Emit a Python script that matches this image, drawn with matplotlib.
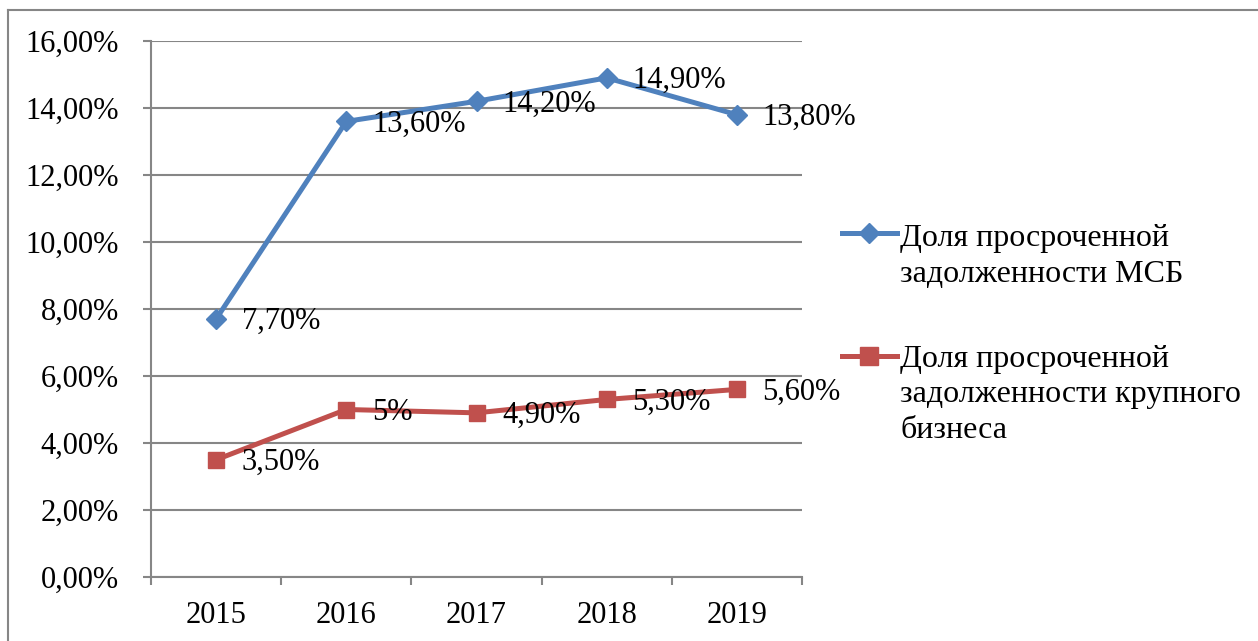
import matplotlib
matplotlib.use("Agg")
import matplotlib.pyplot as plt
from matplotlib.lines import Line2D

plt.rcParams['font.family'] = ['Liberation Serif', 'DejaVu Serif']

years = ['2015', '2016', '2017', '2018', '2019']
msb = [7.70, 13.60, 14.20, 14.90, 13.80]
large = [3.50, 5.00, 4.90, 5.30, 5.60]
msb_labels = ['7,70%', '13,60%', '14,20%', '14,90%', '13,80%']
large_labels = ['3,50%', '5%', '4,90%', '5,30%', '5,60%']
yticks = [0, 2, 4, 6, 8, 10, 12, 14, 16]
ytick_labels = ['0,00%', '2,00%', '4,00%', '6,00%', '8,00%', '10,00%', '12,00%', '14,00%', '16,00%']
legend_lines = [['Доля просроченной', 'задолженности МСБ'],
                ['Доля просроченной', 'задолженности крупного', 'бизнеса']]

BLUE = '#4F81BD'
RED = '#C0504D'
GRAY = '#868686'
FS = 22
FS_LEG = 23

W, H = 1258, 641
fig = plt.figure(figsize=(W / 100, H / 100), dpi=100)
ax = fig.add_axes([151 / W, 1 - 577 / H, (802 - 151) / W, (577 - 41) / H])

x = list(range(len(years)))
ax.plot(x, msb, color=BLUE, lw=3.6, marker='D', markersize=10.5, zorder=3)
ax.plot(x, large, color=RED, lw=3.6, marker='s', markersize=12, zorder=3)

for xi, v, lab in zip(x, msb, msb_labels):
    ax.annotate(lab, (xi, v), xytext=(18.5, -2), textcoords='offset points',
                ha='left', va='center', fontsize=FS, zorder=4)
for xi, v, lab in zip(x, large, large_labels):
    ax.annotate(lab, (xi, v), xytext=(18.5, -2), textcoords='offset points',
                ha='left', va='center', fontsize=FS, zorder=4)

ax.set_xlim(-0.5, len(years) - 0.5)
ax.set_ylim(0, 16)
ax.set_yticks(yticks)
ax.set_yticklabels(ytick_labels, fontsize=FS)
ax.set_xticks(x)
ax.set_xticklabels(years, fontsize=FS)
ax.set_xticks([i - 0.5 for i in range(len(years) + 1)], minor=True)
ax.tick_params(axis='x', which='major', length=0, pad=17)
ax.tick_params(axis='x', which='minor', length=6, width=1.5, color=GRAY)
ax.tick_params(axis='y', length=6, width=1.5, color=GRAY, pad=17)
ax.yaxis.grid(True, color=GRAY, lw=1.5, zorder=0)
ax.set_axisbelow(True)
for s in ['top', 'right']:
    ax.spines[s].set_visible(False)
for s in ['left', 'bottom']:
    ax.spines[s].set_color(GRAY)
    ax.spines[s].set_linewidth(1.5)

# legend (manual)
leg = [(BLUE, 'D', 10.5, 233, 246), (RED, 's', 12.5, 356, 366.7)]
for (c, m, ms, yp, base), lines in zip(leg, legend_lines):
    yf = 1 - yp / H
    fig.add_artist(Line2D([842 / W, 897 / W], [yf, yf], color=c, lw=3.6,
                          transform=fig.transFigure))
    fig.add_artist(Line2D([869 / W], [yf], color=c, marker=m, markersize=ms,
                          transform=fig.transFigure))
    for i, ln in enumerate(lines):
        fig.text(900 / W, 1 - (base + i * 35.7) / H, ln, fontsize=FS_LEG,
                 ha='left', va='baseline')

# outer border
fig.add_artist(Line2D([8 / W, 1], [1 - 10 / H, 1 - 10 / H], color=GRAY, lw=1.5,
                      transform=fig.transFigure))
fig.add_artist(Line2D([8 / W, 8 / W], [1 - 10 / H, 0], color=GRAY, lw=1.5,
                      transform=fig.transFigure))

fig.savefig('out.png', dpi=100)
